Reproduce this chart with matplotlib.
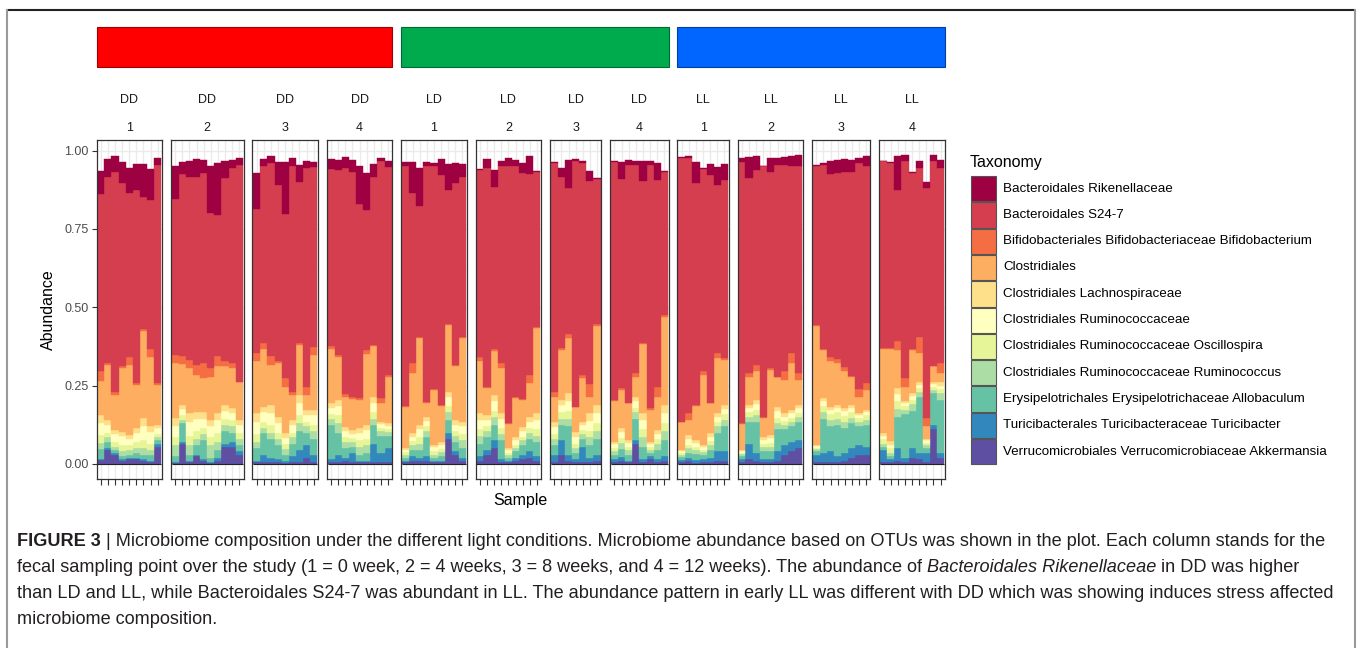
import numpy as np
import matplotlib
matplotlib.use('Agg')
import matplotlib.pyplot as plt
from matplotlib.patches import Rectangle
from matplotlib.ticker import FixedLocator

plt.rcParams['font.family'] = ['Liberation Sans', 'DejaVu Sans']

# facets: light condition x sampling point, samples per facet
conditions = ['DD', 'LD', 'LL']
condition_colors = ['#FF0000', '#00AB4E', '#0066FF']
condition_edges = ['#A00000', '#006B30', '#0040A0']
timepoints = ['1', '2', '3', '4']
samples_per_panel = [9, 10, 9, 9, 9, 9, 7, 8, 7, 9, 8, 9]

taxa = ['Bacteroidales Rikenellaceae',
        'Bacteroidales S24-7',
        'Bifidobacteriales Bifidobacteriaceae Bifidobacterium',
        'Clostridiales',
        'Clostridiales Lachnospiraceae',
        'Clostridiales Ruminococcaceae',
        'Clostridiales Ruminococcaceae Oscillospira',
        'Clostridiales Ruminococcaceae Ruminococcus',
        'Erysipelotrichales Erysipelotrichaceae Allobaculum',
        'Turicibacterales Turicibacteraceae Turicibacter',
        'Verrucomicrobiales Verrucomicrobiaceae Akkermansia']
taxa_colors = ['#9E0142', '#D53E4F', '#F46D43', '#FDAE61', '#FEE08B', '#FFFFBF',
               '#E6F598', '#ABDDA4', '#66C2A5', '#3288BD', '#5E4FA2']

# abundances per sample, facet by facet (DD1..DD4, LD1..LD4, LL1..LL4)
rikenellaceae = [
    .074, .055, .054, .066, .080, .083, .105, .098, .022,
    .103, .036, .050, .057, .042, .149, .165, .056, .026, .022,
    .115, .023, .021, .072, .164, .025, .053, .021, .017,
    .032, .032, .035, .037, .119, .118, .041, .010, .022,
    .013, .096, .121, .011, .011, .050, .083, .064, .040,
    .003, .028, .053, .019, .028, .021, .032, .055, .003,
    .003, .027, .090, .007, .005, .033, .003,
    .003, .053, .016, .011, .061, .014, .054, .003,
    .003, .005, .066, .004, .034, .057, .051,
    .014, .066, .043, .003, .043, .022, .025, .032, .037,
    .003, .006, .042, .042, .042, .037, .016, .034,
    .003, .003, .106, .021, .003, .020, .020, .019, .025]
s24_7 = [
    .564, .596, .699, .585, .524, .617, .421, .475, .697,
    .498, .583, .583, .599, .607, .495, .452, .582, .621, .691,
    .458, .562, .617, .560, .525, .720, .514, .697, .572,
    .563, .590, .721, .718, .620, .446, .537, .755, .662,
    .764, .545, .419, .752, .711, .734, .427, .580, .511,
    .598, .697, .519, .626, .817, .736, .722, .642, .493,
    .729, .548, .465, .782, .676, .648, .463,
    .758, .668, .758, .665, .519, .776, .659, .455,
    .841, .814, .708, .642, .726, .535, .569,
    .832, .623, .622, .798, .628, .675, .656, .596, .660,
    .507, .588, .586, .594, .621, .652, .722, .692,
    .596, .589, .482, .692, .562, .539, .734, .654, .624]
bifidobacterium = [
    .032, .005, .010, .005, .024, .005, .005, .028, .005,
    .027, .024, .027, .032, .048, .026, .032, .019, .018, .003,
    .028, .021, .027, .007, .026, .011, .007, .027, .026,
    .011, .008, .008, .009, .006, .013, .005, .016, .005,
    .004, .032, .003, .004, .002, .003, .004, .005, .004,
    .010, .006, .007, .018, .004, .003, .002, .027, .005,
    .016, .005, .014, .002, .011, .040, .007,
    .002, .005, .002, .010, .002, .006, .032, .006,
    .002, .022, .003, .014, .002, .018, .005,
    .002, .010, .021, .005, .005, .000, .030, .032, .021,
    .003, .002, .010, .013, .011, .002, .023, .021,
    .003, .003, .031, .028, .004, .053, .026, .000, .032]
clostridiales = [
    .110, .176, .113, .203, .223, .138, .279, .219, .128,
    .175, .131, .143, .117, .106, .139, .149, .123, .127, .120,
    .165, .183, .128, .172, .149, .080, .160, .048, .176,
    .172, .136, .096, .097, .090, .227, .160, .059, .149,
    .131, .191, .277, .044, .175, .114, .212, .171, .267,
    .168, .085, .139, .143, .078, .123, .085, .106, .271,
    .080, .160, .175, .078, .138, .053, .252,
    .131, .122, .117, .064, .221, .101, .106, .282,
    .088, .047, .108, .223, .096, .175, .144,
    .083, .091, .091, .059, .207, .096, .106, .149, .080,
    .380, .154, .149, .133, .120, .091, .053, .064,
    .268, .296, .120, .045, .136, .090, .040, .050, .029]
lachnospiraceae = [
    .024, .015, .013, .015, .013, .014, .026, .020, .010,
    .026, .013, .027, .022, .022, .020, .022, .018, .016, .015,
    .027, .018, .025, .021, .015, .015, .025, .015, .017,
    .014, .019, .014, .012, .014, .017, .020, .008, .008,
    .005, .011, .014, .013, .008, .010, .016, .015, .015,
    .022, .016, .020, .020, .007, .010, .014, .016, .022,
    .018, .017, .024, .016, .012, .024, .025,
    .008, .013, .010, .015, .022, .008, .012, .025,
    .004, .013, .010, .007, .011, .012, .013,
    .004, .010, .013, .010, .011, .015, .011, .011, .011,
    .004, .010, .010, .010, .010, .010, .007, .007,
    .008, .010, .020, .007, .010, .010, .005, .008, .010]
ruminococcaceae = [
    .040, .025, .025, .028, .020, .030, .045, .036, .017,
    .035, .020, .045, .040, .030, .035, .040, .025, .022, .025,
    .040, .030, .038, .030, .020, .025, .040, .022, .030,
    .020, .030, .020, .015, .025, .027, .030, .012, .010,
    .007, .015, .025, .018, .013, .014, .030, .020, .025,
    .030, .020, .030, .027, .008, .015, .018, .020, .030,
    .022, .022, .032, .022, .016, .033, .033,
    .011, .018, .012, .020, .030, .010, .017, .033,
    .006, .018, .012, .009, .015, .015, .017,
    .005, .013, .018, .012, .015, .020, .013, .014, .014,
    .005, .015, .013, .013, .015, .012, .008, .010,
    .010, .012, .022, .008, .011, .010, .007, .008, .010]
oscillospira = [
    .025, .015, .015, .020, .015, .020, .025, .020, .012,
    .025, .015, .030, .025, .020, .025, .030, .020, .020, .020,
    .025, .020, .025, .020, .015, .015, .025, .015, .020,
    .015, .025, .015, .012, .020, .020, .020, .010, .010,
    .008, .012, .020, .015, .010, .010, .020, .015, .020,
    .020, .015, .020, .020, .007, .010, .012, .015, .020,
    .015, .020, .025, .015, .012, .020, .025,
    .010, .015, .010, .015, .025, .008, .015, .025,
    .005, .012, .010, .008, .012, .015, .018,
    .005, .015, .018, .010, .012, .018, .013, .012, .013,
    .005, .020, .018, .020, .018, .018, .012, .015,
    .015, .015, .025, .012, .015, .013, .008, .010, .015]
ruminococcus = [
    .020, .015, .010, .015, .015, .015, .020, .015, .010,
    .035, .010, .030, .020, .020, .040, .025, .020, .020, .020,
    .020, .015, .020, .020, .020, .020, .025, .020, .025,
    .020, .030, .020, .015, .025, .025, .020, .015, .012,
    .010, .015, .020, .020, .010, .012, .025, .020, .025,
    .025, .020, .025, .020, .008, .012, .015, .020, .020,
    .020, .020, .025, .015, .015, .025, .025,
    .012, .020, .015, .020, .030, .010, .020, .030,
    .007, .015, .012, .010, .015, .020, .020,
    .006, .015, .020, .015, .015, .020, .015, .015, .015,
    .007, .020, .020, .020, .020, .018, .015, .015,
    .010, .010, .025, .015, .020, .015, .010, .012, .020]
allobaculum = [
    .030, .020, .010, .010, .010, .015, .015, .020, .010,
    .020, .060, .020, .030, .060, .015, .025, .040, .030, .020,
    .040, .070, .060, .045, .020, .040, .060, .040, .050,
    .110, .070, .030, .020, .020, .025, .060, .055, .040,
    .010, .020, .025, .060, .010, .015, .040, .030, .030,
    .040, .040, .050, .060, .010, .020, .030, .040, .045,
    .030, .050, .090, .020, .025, .040, .050,
    .015, .025, .020, .070, .040, .010, .030, .050,
    .010, .015, .020, .012, .025, .060, .080,
    .010, .070, .100, .025, .025, .070, .050, .050, .060,
    .010, .110, .080, .100, .080, .080, .060, .070,
    .010, .008, .100, .140, .120, .180, .015, .100, .170]
turicibacter = [
    .005, .005, .005, .005, .005, .005, .005, .005, .010,
    .003, .005, .005, .005, .005, .003, .010, .010, .015, .010,
    .005, .025, .015, .010, .005, .020, .040, .040, .025,
    .010, .025, .010, .030, .005, .005, .060, .030, .045,
    .005, .015, .010, .015, .005, .005, .020, .010, .010,
    .015, .015, .025, .010, .005, .010, .015, .020, .015,
    .025, .045, .020, .010, .050, .015, .020,
    .010, .015, .005, .010, .010, .010, .010, .015,
    .008, .010, .010, .010, .015, .030, .030,
    .010, .050, .025, .010, .010, .030, .030, .030, .025,
    .025, .030, .035, .020, .025, .030, .030, .025,
    .040, .012, .040, .013, .030, .020, .030, .015, .015]
akkermansia = [
    .012, .045, .030, .010, .015, .015, .010, .005, .055,
    .002, .065, .005, .025, .010, .002, .010, .055, .055, .030,
    .005, .005, .005, .005, .003, .005, .005, .020, .005,
    .005, .005, .010, .005, .005, .005, .005, .005, .005,
    .005, .010, .010, .010, .005, .005, .080, .030, .010,
    .010, .030, .050, .005, .005, .010, .015, .020, .010,
    .005, .030, .010, .005, .005, .005, .010,
    .005, .008, .005, .065, .005, .015, .005, .010,
    .005, .010, .003, .005, .005, .010, .010,
    .005, .015, .010, .005, .005, .010, .030, .040, .050,
    .005, .005, .005, .005, .010, .020, .030, .030,
    .005, .005, .010, .005, .020, .015, .005, .110, .020]

abundance = [rikenellaceae, s24_7, bifidobacterium, clostridiales, lachnospiraceae,
             ruminococcaceae, oscillospira, ruminococcus, allobaculum, turicibacter,
             akkermansia]

W, H = 1358, 648
fig = plt.figure(figsize=(W / 100, H / 100), dpi=100)

# background axes in pixel coordinates (y down) for header, strips, legend, caption
bg = fig.add_axes([0, 0, 1, 1], zorder=-1)
bg.set_xlim(0, W)
bg.set_ylim(H, 0)
bg.axis('off')

unit, gap, x_start = 7.12, 8.9, 96.5
panel_top, panel_bot = 140, 479
ymin, ymax = -0.048, 1.0335

lefts, widths = [], []
x = x_start
for n in samples_per_panel:
    w = (n + 0.2) * unit
    lefts.append(x)
    widths.append(w)
    x += w + gap

start = 0
for p, n in enumerate(samples_per_panel):
    ax = fig.add_axes([lefts[p] / W, 1 - panel_bot / H, widths[p] / W,
                       (panel_bot - panel_top) / H])
    xs = np.arange(1, n + 1)
    bottom = np.zeros(n)
    for k in reversed(range(len(taxa))):
        vals = np.array(abundance[k][start:start + n])
        ax.bar(xs, vals, bottom=bottom, width=1.0, color=taxa_colors[k],
               edgecolor=taxa_colors[k], linewidth=0.3)
        bottom += vals
    ax.hlines(0, 0.5, n + 0.5, color='#222222', lw=0.8, zorder=3)
    start += n

    ax.set_xlim(0.4, n + 0.6)
    ax.set_ylim(ymin, ymax)
    ax.set_xticks(xs)
    ax.set_xticklabels([])
    ax.set_yticks([0, 0.25, 0.5, 0.75, 1.0])
    ax.set_yticklabels(['0.00', '0.25', '0.50', '0.75', '1.00'])
    ax.yaxis.set_minor_locator(FixedLocator([0.125, 0.375, 0.625, 0.875]))
    ax.set_axisbelow(True)
    ax.grid(which='major', color='#EBEBEB', lw=1.0)
    ax.grid(which='minor', axis='y', color='#F2F2F2', lw=0.5)
    ax.tick_params(axis='x', length=4, width=0.8, color='#333333', labelbottom=False)
    ax.tick_params(axis='y', which='minor', length=0)
    ax.tick_params(axis='y', which='major', length=3.5, width=0.8, color='#333333',
                   labelcolor='#4D4D4D', labelsize=9, pad=2,
                   left=(p == 0), labelleft=(p == 0))
    for s in ax.spines.values():
        s.set_color('#333333')
        s.set_linewidth(0.9)

    cx = lefts[p] + widths[p] / 2
    bg.text(cx, 100, conditions[p // 4], ha='center', va='center', fontsize=9, color='#1A1A1A')
    bg.text(cx, 128, timepoints[p % 4], ha='center', va='center', fontsize=9, color='#1A1A1A')

# condition header bars
for g in range(3):
    x0 = lefts[g * 4]
    x1 = lefts[g * 4 + 3] + widths[g * 4 + 3]
    bg.add_patch(Rectangle((x0, 27), x1 - x0, 40, facecolor=condition_colors[g],
                           edgecolor=condition_edges[g], lw=0.8))

bg.text(48, 310, 'Abundance', rotation=90, ha='center', va='center', fontsize=11.5, color='#000000')
bg.text(x_start + (x - gap - x_start) / 2, 500, 'Sample', ha='center', va='center',
        fontsize=11.5, color='#000000')

# legend
bg.text(970, 162, 'Taxonomy', ha='left', va='center', fontsize=11.5)
for i, (name, c) in enumerate(zip(taxa, taxa_colors)):
    y0 = 176 + i * 26.3
    bg.add_patch(Rectangle((971, y0), 25, 25.3, facecolor=c, edgecolor='#555555', lw=0.8))
    bg.text(1003, y0 + 12.6, name, ha='left', va='center', fontsize=9.6)

# outer frame
bg.plot([7, 1355], [10, 10], color='#222222', lw=1.5, solid_capstyle='butt')
bg.plot([7, 7], [10, H], color='#999999', lw=1.5)
bg.plot([1355, 1355], [10, H], color='#999999', lw=1.5)

# caption
renderer = fig.canvas.get_renderer()


def text_width(s, **kw):
    t1 = bg.text(0, 0, '|' + s + '|', **kw)
    t2 = bg.text(0, 0, '||', **kw)
    w = t1.get_window_extent(renderer).width - t2.get_window_extent(renderer).width
    t1.remove()
    t2.remove()
    return w


caption_lines = [
    [('FIGURE 3', 'bold', 'normal'),
     (' | Microbiome composition under the different light conditions. Microbiome abundance based on OTUs was shown in the plot. Each column stands for the', 'normal', 'normal')],
    [('fecal sampling point over the study (1 = 0 week, 2 = 4 weeks, 3 = 8 weeks, and 4 = 12 weeks). The abundance of ', 'normal', 'normal'),
     ('Bacteroidales Rikenellaceae', 'normal', 'italic'),
     (' in DD was higher', 'normal', 'normal')],
    [('than LD and LL, while Bacteroidales S24-7 was abundant in LL. The abundance pattern in early LL was different with DD which was showing induces stress affected', 'normal', 'normal')],
    [('microbiome composition.', 'normal', 'normal')],
]
ref = caption_lines[2][0][0]
cap_size = 12.0 * 1323 / text_width(ref, fontsize=12.0)
for li, pieces in enumerate(caption_lines):
    cx = 17
    cy = 541 + li * 26
    for s, weight, style in pieces:
        kw = dict(fontsize=cap_size, fontweight=weight, fontstyle=style)
        bg.text(cx, cy, s, ha='left', va='center', color='#231F20', **kw)
        cx += text_width(s, **kw)

fig.savefig('out.png', dpi=100)
